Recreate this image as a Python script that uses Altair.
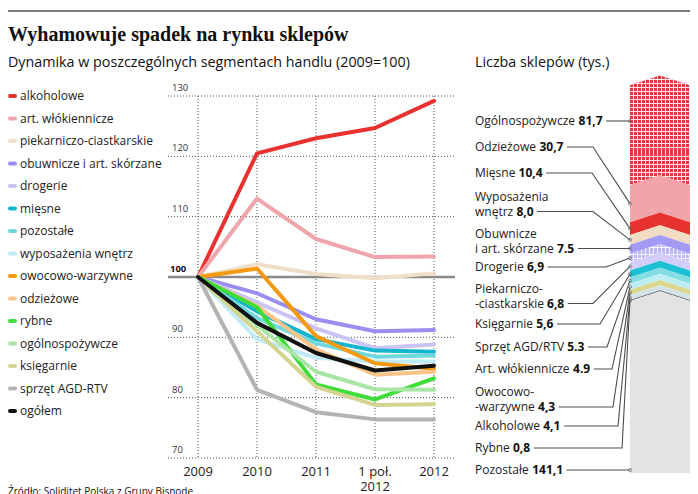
"""Wyhamowuje spadek na rynku sklepów: index lines (2009=100) plus a stacked shop-count column"""

import altair as alt
import pandas as pd


# ---------------------------------------------------------------- data
PERIODS = ["2009", "2010", "2011", "1 poł.\n2012", "2012"]

SEGMENTS = [
    "alkoholowe", "art. włókiennicze", "piekarniczo-ciastkarskie",
    "obuwnicze i art. skórzane", "drogerie", "mięsne", "pozostałe",
    "wyposażenia wnętrz", "owocowo-warzywne", "odzieżowe", "rybne",
    "ogólnospożywcze", "księgarnie", "sprzęt AGD-RTV", "ogółem",
]
SEGMENT_COLORS = [
    "#e8322f", "#f0a4ac", "#efdfc8", "#9a8ef0", "#c9c4f5", "#16b5cf", "#6fd9de",
    "#bfeaf6", "#f39a12", "#f8c48a", "#3fdc3a", "#a9e6a6", "#d4d492", "#b3b3b3",
    "#111111",
]

alkoholowe = [100, 120.5, 123.0, 124.7, 129.2]
wlokiennicze = [100, 113.0, 106.3, 103.3, 103.4]
piekarniczo = [100, 102.1, 100.5, 99.8, 100.6]
obuwnicze = [100, 97.3, 93.0, 91.0, 91.2]
drogerie = [100, 95.8, 91.5, 88.2, 88.8]
miesne = [100, 94.3, 89.7, 87.8, 87.6]
pozostale = [100, 93.2, 89.0, 86.8, 87.0]
wyposazenia = [100, 89.7, 86.6, 86.0, 86.0]
owocowo = [100, 101.4, 90.2, 85.7, 84.8]
odziezowe = [100, 95.2, 88.0, 83.8, 84.3]
rybne = [100, 95.0, 82.2, 79.7, 83.2]
ogolnospozywcze = [100, 92.0, 84.3, 81.4, 81.3]
ksiegarnie = [100, 91.0, 81.8, 78.8, 78.9]
sprzet = [100, 81.3, 77.6, 76.4, 76.4]
ogolem = [100, 92.4, 87.4, 84.5, 85.3]

SERIES = [alkoholowe, wlokiennicze, piekarniczo, obuwnicze, drogerie, miesne,
          pozostale, wyposazenia, owocowo, odziezowe, rybne, ogolnospozywcze,
          ksiegarnie, sprzet, ogolem]

Y_TICKS = [70, 80, 90, 100, 110, 120, 130]
BASE_INDEX = 100

SHOP_NAMES = [
    "Ogólnospożywcze", "Odzieżowe", "Mięsne", "Wyposażenia\nwnętrz",
    "Obuwnicze\ni art. skórzane", "Drogerie", "Piekarniczo-\n-ciastkarskie",
    "Księgarnie", "Sprzęt AGD/RTV", "Art. włókiennicze", "Owocowo-\n-warzywne",
    "Alkoholowe", "Rybne", "Pozostałe",
]
SHOP_COUNTS = [81.7, 30.7, 10.4, 8.0, 7.5, 6.9, 6.8, 5.6, 5.3, 4.9, 4.3, 4.1, 0.8, 141.1]
SHOP_COUNT_LABELS = ["81,7", "30,7", "10,4", "8,0", "7.5", "6,9", "6,8", "5,6",
                     "5.3", "4.9", "4,3", "4,1", "0,8", "141,1"]
SHOP_COLORS = [
    "#e5343a", "#f2a5a8", "#e8322f", "#efdcc3", "#a39cf5", "#bcb6f6", "#d2cef9",
    "#1ec0d6", "#86dde4", "#bfeef2", "#dad78f", "#d5e3e6", "#506464", "#e3e3e3",
]
CHECKERED = ["Ogólnospożywcze", "Drogerie"]


# ---------------------------------------------------------------- layout (pixels)
W, H = 682, 486
FONT = "Open Sans"
TEXT_COLOR = "#222222"

PLOT_X = [190, 426]          # 2009 .. 2012
PLOT_Y = [450, 88]           # 70 .. 130
GRID_X = (160, 447)
LEGEND_Y0, LEGEND_STEP = 88, 22.5

COL_X = (622, 652, 682)      # left, centre, right of the column
STACK_MAX = 320
STACK_Y = [465, 75]
PEAK = 8.0                   # chevron rise in the middle of the column (thousands)
LABEL_X = 467
LABEL_Y = [113, 139, 165, 203.5, 240.5, 259, 295.5, 316, 339, 361, 399, 418, 440, 462]
BEND_X = [None, 585, 584, 585, 598, 598, 585, 592, 599, 604, 605, 610, 614, None]
LINE_H = 15

PPU = (STACK_Y[0] - STACK_Y[1]) / STACK_MAX

# rough Open Sans advance widths (units of 1/2048 em), used to put values after names
ADV = {" ": 532, ".": 545, ",": 500, "-": 659, "/": 694, "(": 604, ")": 604,
       "a": 1139, "b": 1255, "c": 975, "d": 1255, "e": 1149, "f": 705, "g": 1122,
       "h": 1257, "i": 518, "j": 518, "k": 1075, "l": 518, "m": 1905, "n": 1257,
       "o": 1237, "p": 1255, "q": 1255, "r": 836, "s": 977, "t": 723, "u": 1257,
       "v": 1026, "w": 1593, "x": 1073, "y": 1028, "z": 977, "ą": 1139, "ę": 1149,
       "ó": 1237, "ż": 977, "ź": 977, "ł": 560, "ś": 977, "ć": 975, "ń": 1257,
       "A": 1296, "B": 1327, "C": 1292, "D": 1493, "E": 1139, "F": 1057, "G": 1491,
       "H": 1511, "I": 571, "K": 1257, "L": 1073, "M": 1849, "N": 1563, "O": 1606,
       "P": 1233, "R": 1266, "S": 1124, "T": 1133, "V": 1223, "W": 1974}


def text_width(s, size):
    return sum(ADV.get(ch, 1171) for ch in s) / 2048 * size


def px_to_stack(py):
    return (STACK_Y[0] - py) / PPU


def stripes(n, vertical, tint="rgba(255,255,255,0.9)"):
    clear = "rgba(255,255,255,0)"
    stops = []
    for k in range(n):
        a, b = k / n, (k + 0.76) / n
        stops += [alt.GradientStop(color=clear, offset=a), alt.GradientStop(color=clear, offset=b),
                  alt.GradientStop(color=tint, offset=b), alt.GradientStop(color=tint, offset=(k + 1) / n)]
    if vertical:
        return alt.LinearGradient(gradient="linear", stops=stops, x1=0, x2=1, y1=0, y2=0)
    return alt.LinearGradient(gradient="linear", stops=stops, x1=0, x2=0, y1=0, y2=1)


def label(text, x, y, size, weight="normal", family=FONT, align="left", baseline="alphabetic"):
    return alt.Chart(pd.DataFrame({"t": [text]})).mark_text(
        font=family, fontSize=size, fontWeight=weight, align=align,
        baseline=baseline, color="#111111"
    ).encode(x=alt.value(x), y=alt.value(y), text="t:N")


# ---------------------------------------------------------------- header
header = alt.layer(
    alt.Chart(pd.DataFrame({"a": [0]})).mark_rule(color="#7a7a7a", strokeWidth=2).encode(
        x=alt.value(0), x2=alt.value(W), y=alt.value(3)),
    label("Wyhamowuje spadek na rynku sklepów", 0, 33, 20, "bold", "Liberation Serif"),
    label("Dynamika w poszczególnych segmentach handlu (2009=100)", 0, 59, 14.3),
    label("Liczba sklepów (tys.)", LABEL_X, 59, 14.3),
    label("Źródło: Soliditet Polska z Grupy Bisnode", 0, 479, 10, baseline="top"),
)

# ---------------------------------------------------------------- legend
seg_color = alt.Color("segment:N", scale=alt.Scale(domain=SEGMENTS, range=SEGMENT_COLORS), legend=None)
legend_df = pd.DataFrame({
    "segment": SEGMENTS,
    "ly": [LEGEND_Y0 + i * LEGEND_STEP for i in range(len(SEGMENTS))],
})
legend_base = alt.Chart(legend_df).encode(y=alt.Y("ly:Q", scale=None))
legend = alt.layer(
    legend_base.mark_rule(strokeWidth=4, strokeCap="round").encode(
        x=alt.value(2), x2=alt.value(7), color=seg_color),
    legend_base.mark_text(font=FONT, fontSize=12, align="left", baseline="middle",
                          color=TEXT_COLOR).encode(x=alt.value(12), text="segment:N"),
)

# ---------------------------------------------------------------- line chart
xsc = alt.Scale(domain=[0, len(PERIODS) - 1], range=PLOT_X, nice=False, zero=False)
ysc = alt.Scale(domain=[Y_TICKS[0], Y_TICKS[-1]], range=PLOT_Y, nice=False, zero=False)

lines_df = pd.DataFrame([
    {"segment": name, "i": i, "value": v}
    for name, vals in zip(SEGMENTS, SERIES)
    for i, v in enumerate(vals)
])
ticks_df = pd.DataFrame({"v": Y_TICKS})
periods_df = pd.DataFrame({"i": range(len(PERIODS)), "period": PERIODS})

grid_h = alt.Chart(ticks_df).mark_rule(strokeDash=[1, 2], color="#555555", strokeWidth=1).encode(
    y=alt.Y("v:Q", scale=ysc, axis=None), x=alt.value(GRID_X[0]), x2=alt.value(GRID_X[1]))
grid_v = alt.Chart(periods_df).mark_rule(strokeDash=[1, 2], color="#555555", strokeWidth=1).encode(
    x=alt.X("i:Q", scale=xsc, axis=None), y=alt.value(PLOT_Y[1]), y2=alt.value(PLOT_Y[0]))
base_line = alt.Chart(pd.DataFrame({"v": [BASE_INDEX]})).mark_rule(
    color="#8a8a8a", strokeWidth=2.5).encode(
    y=alt.Y("v:Q", scale=ysc, axis=None), x=alt.value(GRID_X[0]), x2=alt.value(GRID_X[1]))
lines = alt.Chart(lines_df).mark_line(strokeWidth=4, strokeJoin="round", strokeCap="round").encode(
    x=alt.X("i:Q", scale=xsc, axis=None),
    y=alt.Y("value:Q", scale=ysc, axis=None),
    color=seg_color,
)
y_labels = alt.Chart(ticks_df).transform_filter(alt.datum.v != BASE_INDEX).mark_text(
    font=FONT, fontSize=9.5, align="left", baseline="bottom", dy=-3, color="#333333").encode(
    y=alt.Y("v:Q", scale=ysc, axis=None), x=alt.value(164), text="v:Q")
y_label_base = alt.Chart(ticks_df).transform_filter(alt.datum.v == BASE_INDEX).mark_text(
    font=FONT, fontSize=9.5, fontWeight="bold", align="left", baseline="bottom", dy=-3,
    color="#111111").encode(
    y=alt.Y("v:Q", scale=ysc, axis=None), x=alt.value(162), text="v:Q")
x_labels = alt.Chart(periods_df).mark_text(
    font=FONT, fontSize=13, align="center", baseline="top", lineBreak="\n", lineHeight=15,
    color=TEXT_COLOR).encode(
    x=alt.X("i:Q", scale=xsc, axis=None), y=alt.value(PLOT_Y[0] + 8), text="period:N")

line_chart = alt.layer(grid_h, grid_v, base_line, lines, y_labels, y_label_base, x_labels)

# ---------------------------------------------------------------- shop column
ssc = alt.Scale(domain=[0, STACK_MAX], range=STACK_Y, nice=False, zero=False)
shop_color = alt.Color("name:N", scale=alt.Scale(domain=SHOP_NAMES, range=SHOP_COLORS), legend=None)

# stack from the bottom (last name) upwards; the lowest layer carries the chevron peak
bottoms, acc = {}, 0.0
for name, count in reversed(list(zip(SHOP_NAMES, SHOP_COUNTS))):
    bottoms[name] = acc
    acc += count

col_rows = []
for name, count in zip(SHOP_NAMES, SHOP_COUNTS):
    lo = bottoms[name]
    for j, cx in enumerate(COL_X):
        rise = PEAK if j == 1 else 0.0
        lo_j = lo + rise if lo > 0 else 0.0
        col_rows.append({"name": name, "cx": cx, "bottom": lo_j, "top": lo + count + rise})
col_df = pd.DataFrame(col_rows)

column = alt.Chart(col_df).mark_area(interpolate="linear").encode(
    x=alt.X("cx:Q", scale=None),
    y=alt.Y("top:Q", scale=ssc, axis=None, stack=None),
    y2="bottom:Q",
    color=shop_color,
)

checks = []
for name in CHECKERED:
    count = SHOP_COUNTS[SHOP_NAMES.index(name)]
    part = col_df[col_df["name"] == name]
    h_px = (count + PEAK) * PPU
    for grad in (stripes(15, True), stripes(max(2, round(h_px / 4)), False)):
        checks.append(alt.Chart(part).mark_area(interpolate="linear", fill=grad).encode(
            x=alt.X("cx:Q", scale=None),
            y=alt.Y("top:Q", scale=ssc, axis=None, stack=None),
            y2="bottom:Q",
        ))

lead_rows, text_rows = [], []
for i, (name, count, vlab) in enumerate(zip(SHOP_NAMES, SHOP_COUNTS, SHOP_COUNT_LABELS)):
    parts = name.split("\n")
    last = parts[-1]
    ly = px_to_stack(LABEL_Y[i])
    lo = bottoms[name]
    end = ly if lo <= ly <= lo + count else lo + count / 2
    vx = LABEL_X + text_width(last + " ", 12)
    sx = vx + text_width(vlab, 12) + 4
    bx = BEND_X[i] if BEND_X[i] is not None else sx
    for k, (lx, yy) in enumerate([(sx, ly), (max(bx, sx), ly), (COL_X[0], end)]):
        lead_rows.append({"name": name, "k": k, "lx": lx, "ly": yy})
    text_rows.append({"name": name, "head": "\n".join(parts[:-1]), "last": last,
                      "value": vlab, "vx": vx, "ty": ly})
lead_df = pd.DataFrame(lead_rows)
text_df = pd.DataFrame(text_rows)

leaders = alt.Chart(lead_df).mark_line(color="#4d4d4d", strokeWidth=1.1).encode(
    x=alt.X("lx:Q", scale=None),
    y=alt.Y("ly:Q", scale=ssc, axis=None),
    detail="name:N",
    order="k:Q",
)
dots = alt.Chart(lead_df).transform_filter(alt.datum.k == 2).mark_point(
    filled=False, size=10, color="#666666", strokeWidth=1).encode(
    x=alt.X("lx:Q", scale=None), y=alt.Y("ly:Q", scale=ssc, axis=None))

text_base = alt.Chart(text_df).encode(y=alt.Y("ty:Q", scale=ssc, axis=None))
names_last = text_base.mark_text(font=FONT, fontSize=12, align="left", baseline="middle",
                                 color=TEXT_COLOR).encode(x=alt.value(LABEL_X), text="last:N")
names_head = text_base.transform_filter(alt.datum.head != "").mark_text(
    font=FONT, fontSize=12, align="left", baseline="middle", dy=-LINE_H,
    color=TEXT_COLOR).encode(x=alt.value(LABEL_X), text="head:N")
values = text_base.mark_text(font=FONT, fontSize=12, fontWeight="bold", align="left",
                             baseline="middle", color="#111111").encode(
    x=alt.X("vx:Q", scale=None), text="value:N")

shop_chart = alt.layer(column, *checks, leaders, dots, names_last, names_head, values)

# ---------------------------------------------------------------- assemble
chart = alt.layer(header, legend, line_chart, shop_chart).resolve_scale(
    x="independent", y="independent", color="independent"
).properties(
    width=W, height=H, padding=0, autosize=alt.AutoSizeParams(type="none")
).configure_view(stroke=None)

chart.save("out.html", embed_options={"renderer": "svg", "actions": False})
